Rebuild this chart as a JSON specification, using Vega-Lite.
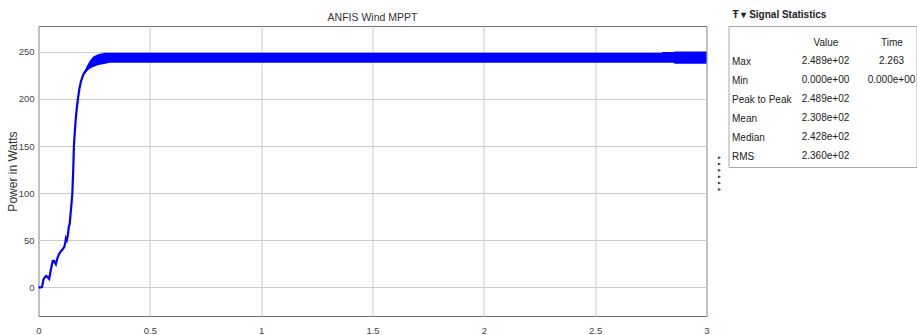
{
  "$schema": "https://vega.github.io/schema/vega-lite/v6.json",
  "padding": {"left": 5.5, "top": 9, "right": 0, "bottom": 0},
  "bounds": "flush",
  "spacing": 22,
  "config": {
    "font": "Liberation Sans",
    "view": {"stroke": "#6e6e6e", "strokeWidth": 1},
    "axis": {"labelFont": "Liberation Sans", "titleFont": "Liberation Sans"}
  },
  "datasets": {
    "ramp": [
      {"t": 0, "p": 0}, {"t": 0.012, "p": 0}, {"t": 0.016, "p": 0.5}, {"t": 0.022, "p": 8},
      {"t": 0.028, "p": 10.5}, {"t": 0.034, "p": 12}, {"t": 0.04, "p": 11}, {"t": 0.048, "p": 9},
      {"t": 0.055, "p": 18}, {"t": 0.064, "p": 28}, {"t": 0.07, "p": 28}, {"t": 0.078, "p": 24.5},
      {"t": 0.085, "p": 31}, {"t": 0.094, "p": 36}, {"t": 0.1, "p": 38}, {"t": 0.108, "p": 40},
      {"t": 0.116, "p": 43}, {"t": 0.12, "p": 47}, {"t": 0.123, "p": 52}, {"t": 0.127, "p": 50},
      {"t": 0.131, "p": 54}, {"t": 0.136, "p": 64}, {"t": 0.14, "p": 67}, {"t": 0.144, "p": 78},
      {"t": 0.148, "p": 88}, {"t": 0.152, "p": 100}, {"t": 0.156, "p": 125}, {"t": 0.159, "p": 150},
      {"t": 0.163, "p": 165}, {"t": 0.167, "p": 178}, {"t": 0.172, "p": 190}, {"t": 0.177, "p": 200},
      {"t": 0.183, "p": 210}, {"t": 0.19, "p": 218}, {"t": 0.198, "p": 224}, {"t": 0.205, "p": 227.5},
      {"t": 0.215, "p": 231}
    ],
    "env": [
      {"t": 0.205, "lo": 226, "hi": 229},
      {"t": 0.215, "lo": 229, "hi": 234},
      {"t": 0.23, "lo": 232, "hi": 240.5},
      {"t": 0.246, "lo": 234, "hi": 245},
      {"t": 0.27, "lo": 236, "hi": 247.7},
      {"t": 0.3, "lo": 237.5, "hi": 249.2},
      {"t": 0.32, "lo": 238.5, "hi": 249.2},
      {"t": 1.0, "lo": 238.5, "hi": 249.2},
      {"t": 2.0, "lo": 238.5, "hi": 249.2},
      {"t": 2.8, "lo": 238.5, "hi": 249.2},
      {"t": 2.801, "lo": 238.5, "hi": 249.9},
      {"t": 2.855, "lo": 238.5, "hi": 249.9},
      {"t": 2.856, "lo": 237.3, "hi": 250.3},
      {"t": 3.0, "lo": 237.3, "hi": 250.3}
    ],
    "stats": [
      {"stat": "Max", "col": "Value", "txt": "2.489e+02"},
      {"stat": "Max", "col": "Time", "txt": "2.263"},
      {"stat": "Min", "col": "Value", "txt": "0.000e+00"},
      {"stat": "Min", "col": "Time", "txt": "0.000e+00"},
      {"stat": "Peak to Peak", "col": "Value", "txt": "2.489e+02"},
      {"stat": "Mean", "col": "Value", "txt": "2.308e+02"},
      {"stat": "Median", "col": "Value", "txt": "2.428e+02"},
      {"stat": "RMS", "col": "Value", "txt": "2.360e+02"}
    ]
  },
  "hconcat": [
    {
      "width": 668,
      "height": 290,
      "title": {"text": "ANFIS Wind MPPT", "fontSize": 10.5, "fontWeight": "normal", "color": "#333333", "anchor": "middle", "baseline": "alphabetic", "offset": -5.5, "frame": "group"},
      "layer": [
        {
          "data": {"name": "env"},
          "mark": {"type": "area", "color": "#0000ff", "opacity": 1},
          "encoding": {
            "x": {"field": "t", "type": "quantitative",
              "scale": {"domain": [0, 3], "nice": false, "zero": false},
              "axis": {"title": null, "values": [0, 0.5, 1, 1.5, 2, 2.5, 3], "format": "~g", "grid": true, "gridColor": "#cccccc", "ticks": false, "domain": false, "labelPadding": 9, "labelFontSize": 9.5, "labelColor": "#444444", "labelFlush": false}},
            "y": {"field": "lo", "type": "quantitative",
              "scale": {"domain": [-30.5, 277.5], "nice": false, "zero": false},
              "axis": {"title": "Power in Watts", "values": [0, 50, 100, 150, 200, 250], "grid": true, "gridColor": "#cccccc", "ticks": false, "domain": false, "labelPadding": 4.5, "labelFontSize": 9.5, "labelColor": "#444444", "titleFontSize": 12, "titleFontWeight": "normal", "titleColor": "#333333", "titleX": -22, "titleBaseline": "alphabetic"}},
            "y2": {"field": "hi"}
          }
        },
        {
          "data": {"name": "ramp"},
          "mark": {"type": "line", "color": "#0000ff", "strokeWidth": 2.2},
          "encoding": {
            "x": {"field": "t", "type": "quantitative"},
            "y": {"field": "p", "type": "quantitative"}
          }
        }
      ]
    },
    {
      "width": 188,
      "height": 141,
      "view": {"stroke": "#a8a8a8"},
      "title": {"text": "Ŧ ▾ Signal Statistics", "anchor": "start", "fontSize": 10, "fontWeight": "bold", "color": "#222222", "baseline": "alphabetic", "offset": -1.7, "frame": "group", "dx": 4},
      "data": {"name": "stats"},
      "mark": {"type": "text", "fontSize": 10, "color": "#222222", "font": "Liberation Sans"},
      "encoding": {
        "x": {"field": "col", "type": "nominal",
          "scale": {"type": "point", "domain": ["Value", "Time"], "range": [97, 163], "padding": 0},
          "axis": {"orient": "top", "title": null, "ticks": false, "domain": false, "grid": false, "labelPadding": -16, "labelBaseline": "middle", "labelFontSize": 10, "labelColor": "#222222", "labelAngle": 0}},
        "y": {"field": "stat", "type": "nominal",
          "scale": {"type": "point", "domain": ["Max", "Min", "Peak to Peak", "Mean", "Median", "RMS"], "range": [35, 130], "padding": 0},
          "axis": {"orient": "left", "title": "▲ ▲ ▲ ▲ ▲ ▲", "titleFontSize": 5, "titleAngle": 90, "titleX": -12, "titleY": 147, "titleColor": "#333333", "ticks": false, "tickSize": 0, "domain": false, "grid": false, "labelAlign": "left", "labelPadding": -3, "labelFontSize": 10, "labelColor": "#222222", "labelBaseline": "middle"}},
        "text": {"field": "txt"}
      }
    }
  ]
}
